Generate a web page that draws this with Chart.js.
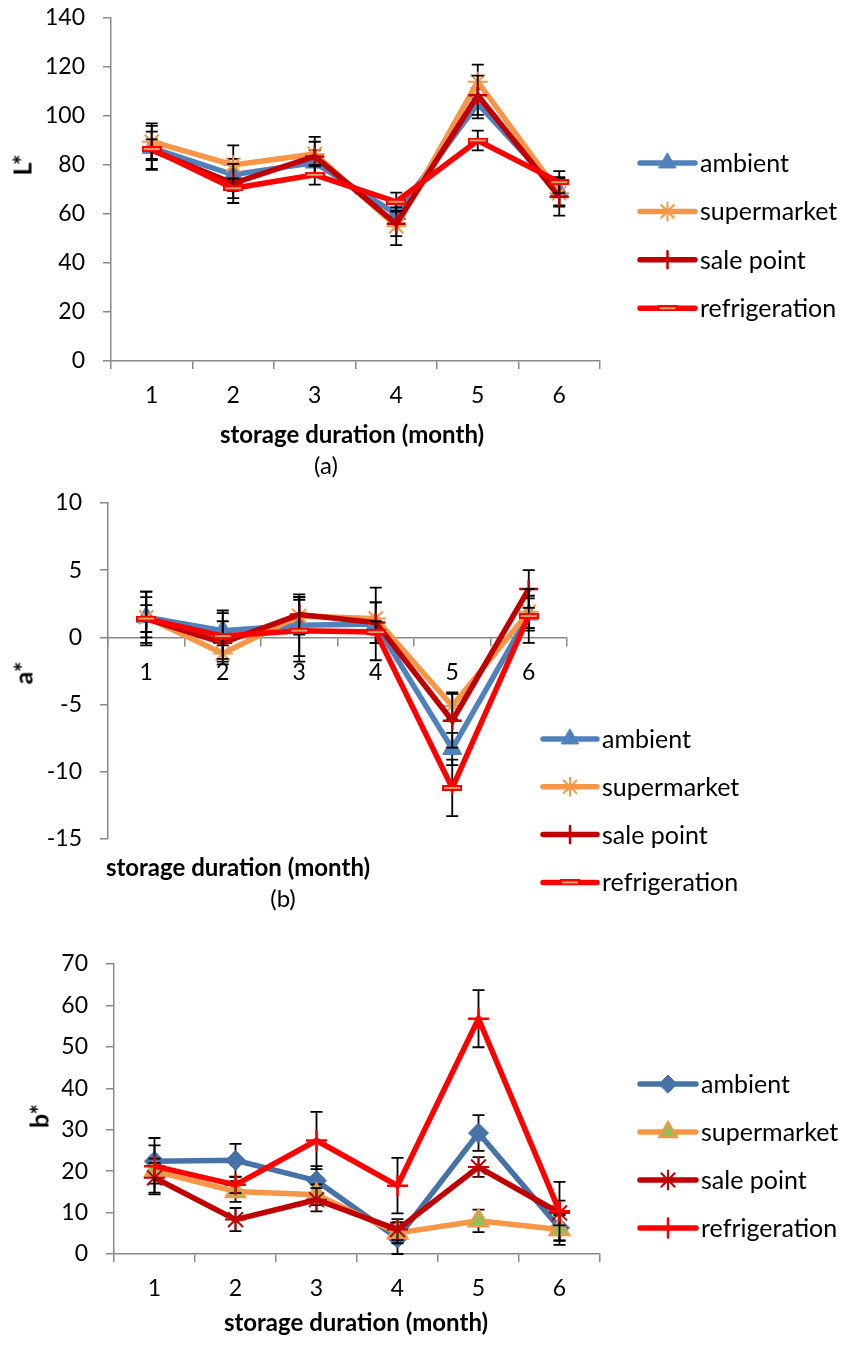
<!DOCTYPE html>
<html>
<head>
<meta charset="utf-8">
<title>Colour (L*, a*, b*) during storage</title>
<script src="https://cdn.jsdelivr.net/npm/chart.js@4.4.1/dist/chart.umd.min.js"></script>
<style>
  html, body { margin: 0; padding: 0; background: #fff; }
  #page { position: relative; width: 844px; height: 1346px; overflow: hidden; font-family: Lato, sans-serif; color: #000; }
  canvas { position: absolute; left: 0; }
  .lbl { position: absolute; white-space: nowrap; transform: translate(-50%, -50%); font-size: 24px; line-height: 1; }
  .b { font-weight: bold; }
  .rot { transform: translate(-50%, -50%) rotate(-90deg); }
</style>
</head>
<body>
<div id="page">
  <canvas id="chartA" width="844" height="420" style="top:0"></canvas>
  <canvas id="chartB" width="844" height="430" style="top:480px"></canvas>
  <canvas id="chartC" width="844" height="406" style="top:940px"></canvas>

  <div class="lbl b rot" style="left:22px;top:165px;font-size:25px">L*</div>
  <div class="lbl b" style="left:352px;top:434px">storage duration (month)</div>
  <div class="lbl" style="left:326px;top:465px">(a)</div>

  <div class="lbl b rot" style="left:23px;top:673px;font-size:25px">a*</div>
  <div class="lbl b" style="left:238px;top:867px">storage duration (month)</div>
  <div class="lbl" style="left:283px;top:898px">(b)</div>

  <div class="lbl b rot" style="left:39px;top:1116px;font-size:25px">b*</div>
  <div class="lbl b" style="left:356px;top:1322px">storage duration (month)</div>
</div>
<script>
// storage months (x categories)
const months = ['1', '2', '3', '4', '5', '6'];
const names = ['ambient', 'supermarket', 'sale point', 'refrigeration'];

// L* means and error bars
const lAmbient = [87, 76, 81, 60, 105, 69];
const lAmbientErr = [9, 6.5, 5, 4, 6, 6];
const lSuper = [89.5, 80, 84.5, 55, 114, 68.5];
const lSuperErr = [7.5, 8, 5, 7.7, 7, 5];
const lSale = [86, 72.5, 83.5, 56, 108.5, 67];
const lSaleErr = [7.6, 8, 8, 5, 8, 7.7];
const lFridge = [86.5, 70.5, 76, 65, 90, 73];
const lFridgeErr = [4, 4, 4, 3.7, 4, 4.5];

// a*
const aAmbient = [1.5, 0.5, 0.9, 1.0, -8.3, 1.7];
const aAmbientErr = [1.5, 1.5, 2.3, 2.7, 1.2, 1.2];
const aSuper = [1.5, -1.2, 1.6, 1.4, -5.1, 1.9];
const aSuperErr = [1.9, 0.6, 1.4, 1.2, 1.0, 1.2];
const aSale = [1.4, -0.4, 1.7, 1.1, -6.2, 3.6];
const aSaleErr = [2.0, 1.6, 1.3, 1.5, 2.0, 1.4];
const aFridge = [1.4, 0.1, 0.5, 0.4, -11.2, 1.6];
const aFridgeErr = [1.0, 1.7, 2.3, 0.8, 2.1, 2.0];

// b*
const bAmbient = [22.4, 22.6, 17.7, 3.8, 29.2, 6.3];
const bAmbientErr = [3.8, 4.0, 3.5, 3.8, 4.3, 3.0];
const bSuper = [20, 15.1, 14.3, 5.1, 8.0, 5.9];
const bSuperErr = [3.0, 2.5, 2.5, 2.5, 2.7, 3.7];
const bSale = [18.4, 8.3, 13.1, 5.9, 21, 9.9];
const bSaleErr = [3.6, 2.8, 2.8, 2.5, 2.4, 3.0];
const bFridge = [21.2, 16.7, 27.4, 16.5, 56.8, 10.3];
const bFridgeErr = [6.8, 2.0, 6.9, 6.7, 6.9, 7.1];

const axisGrey = '#898989';
Chart.defaults.font.family = "Lato, 'DejaVu Sans', sans-serif";
Chart.defaults.color = '#000';

// excel-like "dash" marker
const dash = document.createElement('canvas');
dash.width = 20; dash.height = 6;
const dc = dash.getContext('2d');
dc.fillStyle = '#FF0000';
dc.fillRect(0, 0, 20, 6);
dc.fillStyle = '#D9A46E';
dc.fillRect(2, 2, 16, 2);

// error bars, drawn just before each series like excel does
const errorBars = {
  id: 'errorBars',
  beforeDatasetDraw(chart, args) {
    const ds = chart.data.datasets[args.index];
    if (!ds.errors) return;
    const y = chart.scales.y;
    const ctx = chart.ctx;
    ctx.save();
    ctx.strokeStyle = '#000';
    ctx.lineWidth = 1.8;
    args.meta.data.forEach((pt, i) => {
      const top = y.getPixelForValue(ds.data[i] + ds.errors[i]);
      const bot = y.getPixelForValue(ds.data[i] - ds.errors[i]);
      ctx.beginPath();
      ctx.moveTo(pt.x, top); ctx.lineTo(pt.x, bot);
      ctx.moveTo(pt.x - 6, top); ctx.lineTo(pt.x + 6, top);
      ctx.moveTo(pt.x - 6, bot); ctx.lineTo(pt.x + 6, bot);
      ctx.stroke();
    });
    ctx.restore();
  }
};

// legend with line + marker like the original
const sideLegend = {
  id: 'sideLegend',
  afterDraw(chart, args, opts) {
    if (!opts || opts.x === undefined) return;
    const ctx = chart.ctx;
    chart.data.datasets.forEach((ds, i) => {
      const y = opts.top + i * opts.gap;
      ctx.save();
      ctx.strokeStyle = ds.borderColor;
      ctx.lineWidth = 5.5;
      ctx.lineCap = 'round';
      ctx.beginPath();
      ctx.moveTo(opts.x, y);
      ctx.lineTo(opts.x + opts.len, y);
      ctx.stroke();
      ctx.fillStyle = ds.pointBackgroundColor;
      ctx.strokeStyle = ds.pointBorderColor;
      ctx.lineWidth = ds.pointBorderWidth;
      Chart.helpers.drawPoint(ctx, {
        pointStyle: ds.pointStyle, radius: ds.pointRadius * 0.9, rotation: 0, borderWidth: ds.pointBorderWidth
      }, opts.x + opts.len / 2, y);
      ctx.fillStyle = '#000';
      ctx.font = "25px Lato, 'DejaVu Sans', sans-serif";
      ctx.textBaseline = 'middle';
      ctx.fillText(ds.label, opts.x + opts.len + 5, y + 1);
      ctx.restore();
    });
  }
};

function series(label, data, errors, style, order) {
  return Object.assign({
    label, data, errors, order,
    borderWidth: 5.5, tension: 0, fill: false, clip: false,
    pointBorderWidth: 2
  }, style);
}

const styleA = [
  { borderColor: '#4F81BD', pointStyle: 'triangle', pointRadius: 11, pointBackgroundColor: '#4F81BD', pointBorderColor: '#4F81BD', pointBorderWidth: 1 },
  { borderColor: '#F79646', pointStyle: 'star', pointRadius: 10, pointBackgroundColor: '#F79646', pointBorderColor: '#F79646' },
  { borderColor: '#C00000', pointStyle: 'cross', pointRadius: 9.5, pointBackgroundColor: '#C00000', pointBorderColor: '#C00000', pointBorderWidth: 2.5 },
  { borderColor: '#FF0000', pointStyle: dash, pointRadius: 9, pointBackgroundColor: '#D9A46E', pointBorderColor: '#FF0000' }
];
const styleC = [
  { borderColor: '#4672A8', pointStyle: 'rectRot', pointRadius: 10, pointBackgroundColor: '#4672A8', pointBorderColor: '#4672A8', pointBorderWidth: 1 },
  { borderColor: '#F79646', pointStyle: 'triangle', pointRadius: 11.5, pointBackgroundColor: '#9BBB59', pointBorderColor: '#F79646' },
  { borderColor: '#C00000', pointStyle: 'star', pointRadius: 10.5, pointBackgroundColor: '#C00000', pointBorderColor: '#C00000' },
  { borderColor: '#FF0000', pointStyle: 'cross', pointRadius: 10.5, pointBackgroundColor: '#FF0000', pointBorderColor: '#FF0000', pointBorderWidth: 2.5 }
];

function makeChart(id, cfg) {
  const datasets = cfg.values.map((v, i) => series(names[i], v, cfg.errors[i], cfg.styles[i], 3 - i));
  return new Chart(document.getElementById(id), {
    type: 'line',
    data: { labels: months, datasets },
    options: {
      responsive: false,
      animation: false,
      layout: { padding: cfg.padding },
      plugins: { legend: { display: false }, tooltip: { enabled: false }, sideLegend: cfg.legend },
      scales: {
        x: {
          type: 'category',
          offset: true,
          position: cfg.xPosition,
          grid: { offset: true, drawOnChartArea: false, tickLength: 8, color: axisGrey, lineWidth: 1.5 },
          border: { color: axisGrey, width: 1.5 },
          ticks: { padding: 13, color: '#000', font: { size: 23 }, maxRotation: 0, autoSkip: false },
          afterFit: (s) => { s.height = cfg.xHeight; }
        },
        y: {
          min: cfg.yMin,
          max: cfg.yMax,
          ticks: { stepSize: cfg.yStep, padding: 18, color: '#000', font: { size: 23 } },
          grid: { drawOnChartArea: false, tickLength: 8, color: axisGrey, lineWidth: 1.5 },
          border: { color: axisGrey, width: 1.5 },
          afterFit: (s) => { s.width = cfg.yWidth; s.paddingTop = 0; s.paddingBottom = 0; }
        }
      }
    },
    plugins: [errorBars, sideLegend]
  });
}

makeChart('chartA', {
  values: [lAmbient, lSuper, lSale, lFridge],
  errors: [lAmbientErr, lSuperErr, lSaleErr, lFridgeErr],
  styles: styleA,
  padding: { left: 0, right: 244, top: 18, bottom: 0 },
  xPosition: 'bottom', xHeight: 59, yWidth: 111,
  yMin: 0, yMax: 140, yStep: 20,
  legend: { x: 640, top: 163, gap: 48.4, len: 55 }
});

makeChart('chartB', {
  values: [aAmbient, aSuper, aSale, aFridge],
  errors: [aAmbientErr, aSuperErr, aSaleErr, aFridgeErr],
  styles: styleA,
  padding: { left: 0, right: 277, top: 23, bottom: 71 },
  xPosition: { y: 0 }, xHeight: 0, yWidth: 108,
  yMin: -15, yMax: 10, yStep: 5,
  legend: { x: 543, top: 259, gap: 47.8, len: 54 }
});

makeChart('chartC', {
  values: [bAmbient, bSuper, bSale, bFridge],
  errors: [bAmbientErr, bSuperErr, bSaleErr, bFridgeErr],
  styles: styleC,
  padding: { left: 0, right: 244, top: 24, bottom: 0 },
  xPosition: 'bottom', xHeight: 92, yWidth: 114,
  yMin: 0, yMax: 70, yStep: 10,
  legend: { x: 640, top: 144, gap: 48, len: 56 }
});
</script>
</body>
</html>
